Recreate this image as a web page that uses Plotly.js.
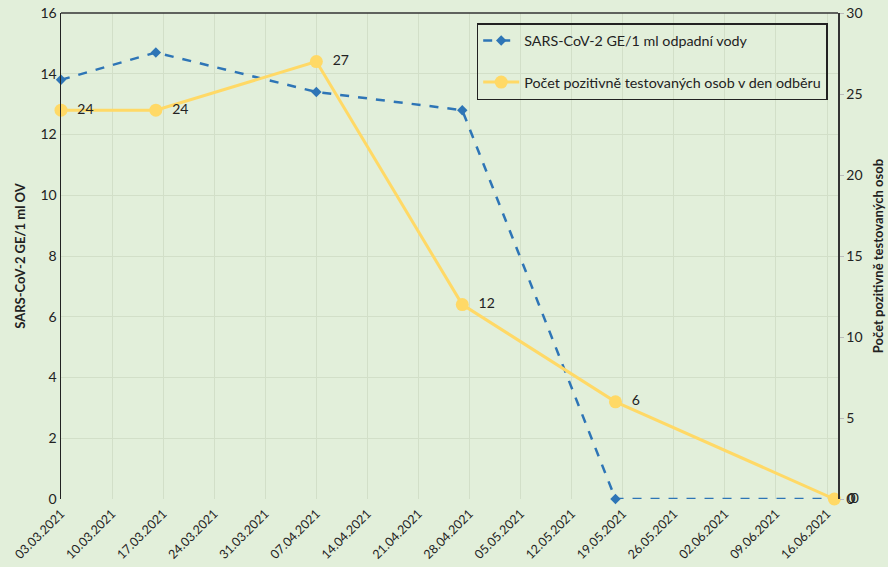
<!DOCTYPE html>
<html>
<head>
<meta charset="utf-8">
<script src="https://cdn.plot.ly/plotly-3.0.1.min.js"></script>
<style>html,body{margin:0;padding:0;background:#e2efda;}</style>
</head>
<body>
<div id="chart" style="width:888px;height:567px;"></div>
<script>
// Data
const blueDates = ['2021-03-03', '2021-03-16', '2021-04-07', '2021-04-27', '2021-05-18', '2021-06-17'];
const blueValues = [13.8, 14.7, 13.4, 12.8, 0, 0];
const blueLabels = ['', '', '', '', '', '0'];
const yellowDates = ['2021-03-03', '2021-03-16', '2021-04-07', '2021-04-27', '2021-05-18', '2021-06-17'];
const yellowValues = [24, 24, 27, 12, 6, 0];
const tickDates = ['2021-03-03','2021-03-10','2021-03-17','2021-03-24','2021-03-31','2021-04-07','2021-04-14','2021-04-21','2021-04-28','2021-05-05','2021-05-12','2021-05-19','2021-05-26','2021-06-02','2021-06-09','2021-06-16'];
const tickLabels = ['03.03.2021','10.03.2021','17.03.2021','24.03.2021','31.03.2021','07.04.2021','14.04.2021','21.04.2021','28.04.2021','05.05.2021','12.05.2021','19.05.2021','26.05.2021','02.06.2021','09.06.2021','16.06.2021'];
const blueName = 'SARS-CoV-2 GE/1 ml odpadní vody';
const yellowName = 'Počet pozitivně testovaných osob v den odběru';
const leftTitle = 'SARS-CoV-2 GE/1 ml OV';
const rightTitle = 'Počet pozitivně testovaných osob';

const FONT = 'Lato, "Open Sans", sans-serif';
const bg = '#e2efda';
const grid = '#d2dfc8';

const traces = [
  {
    x: blueDates, y: blueValues, name: blueName, type: 'scatter', mode: 'lines+markers+text',
    text: blueLabels.map(s => s ? '  ' + s : ''), textposition: 'middle right', textfont: {size: 14, color: '#222', family: FONT},
    line: {color: '#2e75b6', width: 2.5, dash: 'dash'},
    marker: {symbol: 'diamond', size: 8, color: '#2e75b6'},
    yaxis: 'y', legendgroup: 'a', cliponaxis: false
  },
  {
    x: yellowDates, y: yellowValues, name: yellowName, type: 'scatter', mode: 'lines+markers+text',
    text: yellowValues.map(v => '  ' + v), textposition: 'middle right', textfont: {size: 14, color: '#222', family: FONT},
    line: {color: '#ffd966', width: 3},
    marker: {symbol: 'circle', size: 13, color: '#ffd966'},
    yaxis: 'y2', legendgroup: 'b', cliponaxis: false
  }
];

const layout = {
  width: 888, height: 567,
  paper_bgcolor: bg, plot_bgcolor: bg,
  font: {family: FONT, size: 12, color: '#222'},
  margin: {l: 61, r: 50, t: 13, b: 68},
  showlegend: true,
  legend: {
    x: 0.535, y: 0.979, xanchor: 'left', yanchor: 'top',
    bgcolor: 'rgba(0,0,0,0)', bordercolor: '#222', borderwidth: 1.5,
    font: {size: 14.3, family: FONT, color: '#222'},
    traceorder: 'grouped', tracegroupgap: 20, itemwidth: 36
  },
  xaxis: {
    type: 'date',
    range: ['2021-03-03', '2021-06-17 12:00'],
    tickvals: tickDates, ticktext: tickLabels, tickangle: -45,
    tickfont: {size: 12.5, family: FONT, color: '#222'},
    ticklabelstandoff: 4,
    showgrid: true, gridcolor: grid, gridwidth: 1,
    zeroline: false, showline: false, ticks: ''
  },
  yaxis: {
    range: [0, 16], dtick: 2, tick0: 0,
    tickfont: {size: 14, family: FONT, color: '#222'},
    showgrid: true, gridcolor: grid, zeroline: false,
    showline: true, linecolor: '#222', linewidth: 1.5, ticks: '',
    title: {text: leftTitle, font: {size: 13, family: FONT, color: '#222', weight: 'bold'}, standoff: 12}
  },
  yaxis2: {
    range: [0, 30], dtick: 5, tick0: 0, overlaying: 'y', side: 'right',
    tickfont: {size: 14, family: FONT, color: '#222'},
    showgrid: false, zeroline: false,
    showline: true, linecolor: '#333', linewidth: 1.5, ticks: 'outside', ticklen: 4, tickcolor: '#bbb',
    title: {text: rightTitle, font: {size: 13, family: FONT, color: '#222', weight: 'bold'}, standoff: 12}
  },
  shapes: [
    {type: 'line', xref: 'paper', yref: 'paper', x0: 0, x1: 1, y0: 1, y1: 1, line: {color: '#333', width: 1.5}}
  ]
};

Plotly.newPlot('chart', traces, layout, {displayModeBar: false, staticPlot: true});
</script>
</body>
</html>
